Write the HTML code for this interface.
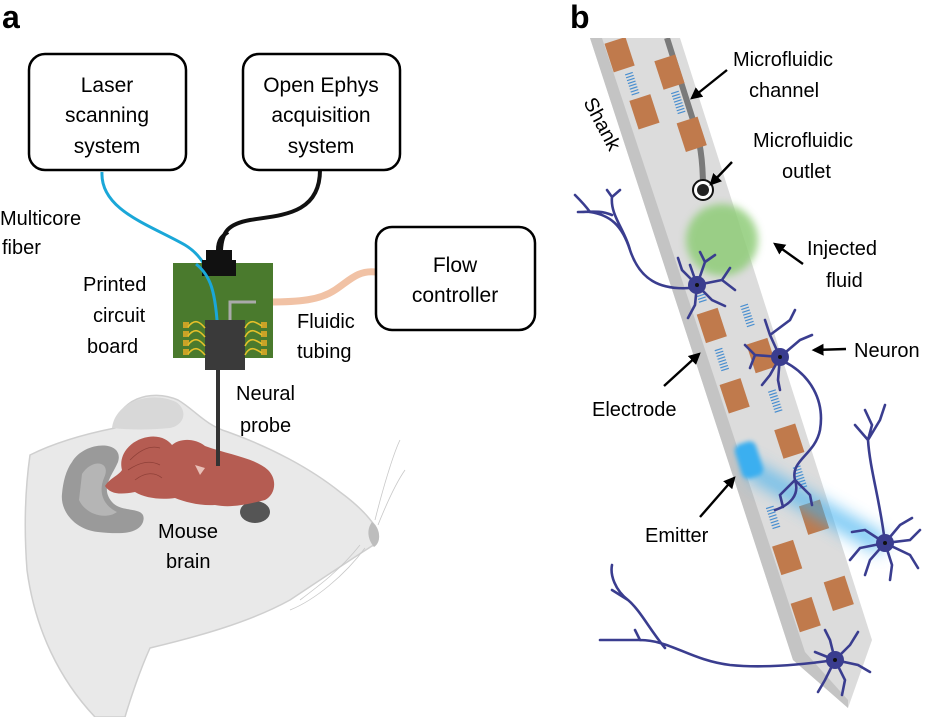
<!DOCTYPE html>
<html><head><meta charset="utf-8"><style>
html,body{margin:0;padding:0;background:#fff;}
svg{display:block;}
text{font-family:"Liberation Sans",Arial,sans-serif;fill:#000;}
</style></head><body>
<svg width="935" height="717" viewBox="0 0 935 717" xmlns="http://www.w3.org/2000/svg">
<defs>
<filter id="blur8" x="-50%" y="-50%" width="200%" height="200%"><feGaussianBlur stdDeviation="8"/></filter>
<filter id="blur4" x="-50%" y="-50%" width="200%" height="200%"><feGaussianBlur stdDeviation="4"/></filter>
<filter id="blur2" x="-50%" y="-50%" width="200%" height="200%"><feGaussianBlur stdDeviation="2"/></filter>
<marker id="ah" viewBox="0 0 10 10" refX="8" refY="5" markerWidth="5" markerHeight="5" orient="auto"><path d="M0,0 L10,5 L0,10 z" fill="#000"/></marker>
<clipPath id="shc"><polygon points="590,38 680,38 872,640 848,708 793,660"/></clipPath>
<g id="stripe"><path d="M0,2h8M0,5h8M0,8h8M0,11h8M0,14h8M0,17h8M0,20h8M0,23h8" stroke="#4a8fd0" stroke-width="1.2"/></g>
</defs>

<text x="2" y="28" font-size="32" font-weight="bold">a</text>
<text x="570" y="28" font-size="32" font-weight="bold">b</text>

<!-- mouse head -->
<path d="M30,455 C60,440 95,432 115,428 C118,400 150,388 178,400 C195,410 205,425 228,432 C270,447 310,468 340,492 C355,503 366,514 372,522 C380,530 381,543 372,546 C350,560 320,580 290,600 C250,622 200,636 150,648 C140,670 130,700 125,717 L95,717 C60,680 35,630 27,570 C24,530 25,490 30,455 Z" fill="#e9e9e9" stroke="#cfcfcf" stroke-width="1.5"/>
<path d="M112,428 C115,402 150,390 176,402 C188,410 185,425 170,428 C150,430 130,430 112,428 Z" fill="#d8d8d8"/>
<path d="M72,462 C85,440 125,440 118,462 C112,476 100,488 112,502 C122,514 148,505 143,522 C138,535 118,534 98,532 C76,530 60,512 62,494 C63,482 66,470 72,462 Z" fill="#9a9a9a"/>
<path d="M82,474 C92,458 112,461 104,478 C99,490 101,504 117,512 C106,520 86,515 79,500 Z" fill="#b5b5b5"/>
<path d="M372,522 C380,528 382,542 374,547 C368,540 366,530 372,522 Z" fill="#bdbdbd"/>
<ellipse cx="255" cy="512" rx="15" ry="11" fill="#555"/>
<g stroke="#c8c8c8" stroke-width="0.8" fill="none">
<path d="M360,545 C340,570 320,585 300,600"/><path d="M365,548 C345,575 315,600 290,610"/>
<path d="M375,520 C385,480 395,450 400,440"/><path d="M378,525 C390,495 398,480 405,470"/>
</g>
<!-- brain -->
<path d="M105,486 C110,478 118,476 122,470 C118,455 130,440 148,437 C160,435 168,440 172,445 C180,438 195,438 205,446 C230,455 255,458 268,470 C278,480 275,495 265,500 C245,505 230,508 215,505 C200,506 185,502 175,498 C160,500 145,498 135,492 C120,495 110,494 105,486 Z" fill="#b55c52"/>
<path d="M130,460 C140,450 150,445 160,448 M128,470 C140,462 150,460 160,465 M135,480 C145,472 155,472 162,478" stroke="#8f4038" stroke-width="0.8" fill="none"/>
<path d="M195,465 L200,475 L205,468 Z" fill="#e8c0b8"/>

<line x1="218" y1="368" x2="218" y2="466" stroke="#333" stroke-width="4"/>

<path d="M102,172 C100,210 150,225 185,245 C210,260 218,290 218,336" stroke="#1aa7d8" stroke-width="3" fill="none"/>
<path d="M320,170 C320,215 280,215 250,220 C228,224 222,232 221,250" stroke="#111" stroke-width="4" fill="none"/>
<path d="M268,302 C300,302 320,300 335,290 C350,280 358,270 376,272" stroke="#f1c2a5" stroke-width="7" fill="none"/>

<rect x="173" y="263" width="100" height="95" fill="#4a7a2d"/>
<path d="M206,250 h26 v10 h4 v16 h-34 v-16 h4 z" fill="#111"/>
<path d="M218,250 C218,240 222,236 228,232" stroke="#111" stroke-width="4" fill="none"/>
<path d="M230,322 v-20 h26" stroke="#aaa" stroke-width="3" fill="none"/>
<path d="M196,264 C210,275 216,290 218,336" stroke="#1aa7d8" stroke-width="3" fill="none"/>
<rect x="205" y="320" width="40" height="50" fill="#3a3a3a"/>
<g fill="#c9a227">
<rect x="183" y="322" width="6" height="6"/><rect x="183" y="331" width="6" height="6"/><rect x="183" y="340" width="6" height="6"/><rect x="183" y="349" width="6" height="6"/>
<rect x="261" y="322" width="6" height="6"/><rect x="261" y="331" width="6" height="6"/><rect x="261" y="340" width="6" height="6"/><rect x="261" y="349" width="6" height="6"/>
</g>
<g stroke="#e6c02a" stroke-width="1.6" fill="none">
<path d="M188,327 C195,318 200,322 205,328"/><path d="M188,336 C195,327 200,331 205,337"/><path d="M188,345 C195,336 200,340 205,346"/><path d="M188,354 C195,345 200,349 205,355"/>
<path d="M245,328 C250,318 256,322 262,326"/><path d="M245,337 C250,327 256,331 262,335"/><path d="M245,346 C250,336 256,340 262,344"/><path d="M245,355 C250,345 256,349 262,353"/>
</g>

<rect x="29" y="54" width="157" height="116" rx="16" fill="#fff" stroke="#000" stroke-width="2.5"/>
<rect x="243" y="54" width="157" height="116" rx="16" fill="#fff" stroke="#000" stroke-width="2.5"/>
<rect x="376" y="227" width="159" height="103" rx="16" fill="#fff" stroke="#000" stroke-width="2.5"/>
<g font-size="21" text-anchor="middle">
<text x="107" y="92">Laser</text><text x="107" y="122">scanning</text><text x="107" y="153">system</text>
<text x="321" y="92">Open Ephys</text><text x="321" y="122">acquisition</text><text x="321" y="153">system</text>
<text x="455" y="272">Flow</text><text x="455" y="302">controller</text>
</g>
<g font-size="20">
<text x="0" y="225">Multicore</text><text x="2" y="254">fiber</text>
<text x="83" y="291">Printed</text><text x="93" y="322">circuit</text><text x="87" y="353">board</text>
<text x="297" y="328">Fluidic</text><text x="297" y="358">tubing</text>
<text x="236" y="400">Neural</text><text x="240" y="432">probe</text>
<text x="158" y="538">Mouse</text><text x="166" y="568">brain</text>
</g>

<!-- shank -->
<polygon points="590,38 680,38 872,640 848,708 793,660" fill="#dcdcdc"/>
<polygon points="590,38 602,38 805,652 848,700 848,708 793,660" fill="#c4c4c4"/>
<g clip-path="url(#shc)">
<path d="M667,38 L693,120 C700,140 703,160 703,188" stroke="#7a7a7a" stroke-width="6" fill="none"/>
<g transform="translate(590,38) rotate(-18)">
<g fill="#c07a4c">
<rect x="12" y="10" width="22" height="30"/><rect x="18" y="72" width="22" height="30"/>
<rect x="54" y="42" width="22" height="30"/><rect x="56" y="108" width="22" height="30"/>
<rect x="16" y="296" width="22" height="30"/><rect x="16" y="370" width="22" height="30"/>
<rect x="54" y="340" width="22" height="30"/><rect x="54" y="430" width="22" height="30"/>
<rect x="16" y="540" width="22" height="30"/><rect x="54" y="510" width="22" height="30"/>
<rect x="16" y="600" width="22" height="30"/><rect x="54" y="590" width="22" height="30"/>
</g>
<use href="#stripe" x="22" y="44"/><use href="#stripe" x="60" y="76"/>
<use href="#stripe" x="22" y="262"/><use href="#stripe" x="60" y="300"/>
<use href="#stripe" x="22" y="334"/><use href="#stripe" x="60" y="390"/>
<use href="#stripe" x="22" y="500"/><use href="#stripe" x="60" y="470"/>
</g>
</g>
<circle cx="703" cy="190" r="10" fill="#fff" stroke="#111" stroke-width="2"/>
<circle cx="703" cy="190" r="6" fill="#222"/>
<circle cx="722" cy="240" r="36" fill="#8fcc78" opacity="0.85" filter="url(#blur4)"/>
<path d="M748,458 L885,535 L880,555 L748,478 Z" fill="#3fb1f0" opacity="0.7" filter="url(#blur8)"/>
<rect x="738" y="442" width="22" height="36" rx="7" fill="#3aaff0" transform="rotate(-18 749 460)" filter="url(#blur2)"/>

<g stroke="#3a3d8f" stroke-width="2.6" fill="none" stroke-linecap="round">
<path d="M690,288 C660,290 640,280 630,250 C622,225 610,215 590,212 M630,250 C625,230 610,215 612,197 M612,215 C600,210 590,212 578,212 M590,212 C585,205 580,200 575,195 M612,197 L607,190 M612,197 L620,190"/>
<path d="M697,285 L690,265 M697,285 L705,262 L700,252 M705,262 L715,255 M697,285 L722,280 L730,268 M722,280 L735,290 M697,285 L712,300 L725,306 M697,285 L695,305 L688,318 M697,285 L682,270 L678,258"/>
<path d="M780,357 L770,335 L765,320 M770,335 L790,320 L795,310 M780,357 L755,355 L745,345 M755,355 L750,368 M780,357 L800,340 L812,335 M780,357 L770,375 L762,385 M780,357 L778,380 L780,390"/>
<path d="M785,362 C810,375 825,400 820,430 C815,455 790,460 795,480 C800,495 790,505 775,510 M795,480 L810,495 L812,505 M795,480 L780,495 L783,507"/>
<path d="M885,543 C880,500 870,470 868,440 L855,425 M868,440 L880,420 L885,405 M868,440 L872,425 L865,410"/>
<path d="M885,543 L860,548 L850,560 M885,543 L870,560 L865,575 M885,543 L892,565 L890,580 M885,543 L910,540 L920,530 M885,543 L910,555 L918,568 M885,543 L900,525 L912,518 M885,543 L865,530 L852,532"/>
<path d="M835,660 C800,665 760,668 730,665 C690,660 670,640 640,640 C620,640 605,640 600,640 M665,648 C650,630 640,610 628,600 C615,590 610,575 612,565 M628,600 L612,590 M640,640 L635,630"/>
<path d="M835,660 L830,640 L825,630 M835,660 L850,645 L858,632 M835,660 L858,665 L870,672 M835,660 L845,680 L842,695 M835,660 L825,680 L818,692 M835,660 L815,652"/>
</g>
<g fill="#3a3d8f">
<circle cx="697" cy="285" r="9"/><circle cx="780" cy="357" r="9"/><circle cx="885" cy="543" r="9"/><circle cx="835" cy="660" r="9"/>
</g>
<g fill="#111"><circle cx="697" cy="285" r="2"/><circle cx="780" cy="357" r="2"/><circle cx="885" cy="543" r="2"/><circle cx="835" cy="660" r="2"/></g>

<g stroke="#000" stroke-width="2.4" marker-end="url(#ah)">
<line x1="727" y1="70" x2="692" y2="98"/>
<line x1="732" y1="162" x2="711" y2="184"/>
<line x1="803" y1="264" x2="775" y2="244"/>
<line x1="846" y1="349" x2="814" y2="350"/>
<line x1="664" y1="386" x2="699" y2="354"/>
<line x1="700" y1="517" x2="734" y2="478"/>
</g>
<g font-size="20">
<text x="733" y="66">Microfluidic</text><text x="749" y="97">channel</text>
<text x="753" y="147">Microfluidic</text><text x="782" y="178">outlet</text>
<text x="807" y="255">Injected</text><text x="826" y="287">fluid</text>
<text x="854" y="357">Neuron</text>
<text x="592" y="416">Electrode</text>
<text x="645" y="542">Emitter</text>
<text transform="translate(583,102) rotate(62)">Shank</text>
</g>
</svg>
</body></html>
